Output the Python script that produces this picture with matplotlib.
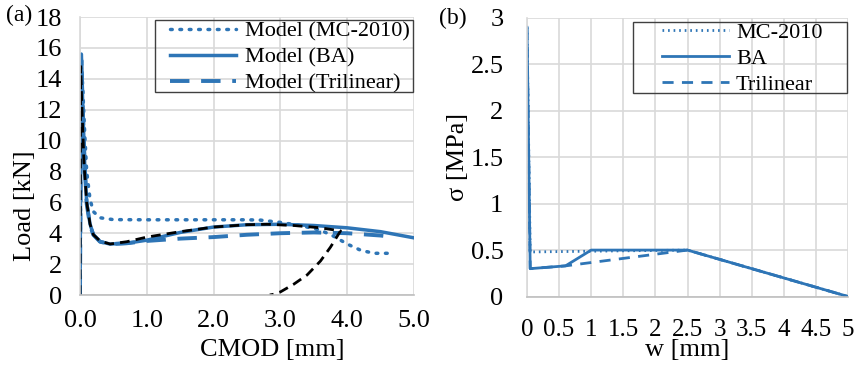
import numpy as np
import matplotlib.pyplot as plt
from matplotlib.patches import Rectangle

plt.rcParams['font.family'] = ['Liberation Serif', 'DejaVu Serif']
plt.rcParams['font.size'] = 14

blue = '#2E75B6'
gridc = '#d9d9d9'

# (a) load vs CMOD
mc_x = [0.0, 0.02, 0.04, 0.07, 0.1, 0.15, 0.2, 0.3, 0.5, 1.0, 1.5, 2.0, 2.5, 2.7, 3.0, 3.3, 3.6, 3.8, 4.0, 4.2, 4.4, 4.6]
mc_y = [0.0, 15.4, 13.5, 10.5, 8.0, 6.2, 5.4, 5.0, 4.88, 4.87, 4.87, 4.87, 4.87, 4.85, 4.7, 4.5, 4.2, 3.8, 3.3, 2.9, 2.7, 2.7]

ba_x = [0.0, 0.02, 0.04, 0.07, 0.1, 0.15, 0.2, 0.3, 0.45, 0.7, 1.0, 1.5, 2.0, 2.5, 3.0, 3.5, 4.0, 4.5, 5.0]
ba_y = [0.0, 15.6, 12.5, 8.5, 6.0, 4.6, 3.9, 3.45, 3.3, 3.35, 3.55, 4.05, 4.4, 4.55, 4.58, 4.5, 4.35, 4.1, 3.7]

tri_x = [0.0, 0.02, 0.04, 0.07, 0.1, 0.15, 0.2, 0.3, 0.45, 0.7, 1.0, 1.5, 2.0, 2.5, 3.0, 3.5, 4.0, 4.5, 4.7]
tri_y = [0.0, 15.2, 12.3, 8.4, 5.9, 4.5, 3.9, 3.45, 3.3, 3.35, 3.5, 3.65, 3.75, 3.9, 4.0, 4.05, 4.0, 3.85, 3.75]

exp_x = [0.0, 0.01, 0.03, 0.06, 0.1, 0.15, 0.2, 0.3, 0.45, 0.7, 1.0, 1.5, 2.0, 2.5, 2.8, 3.2, 3.6, 3.9,
         3.75, 3.6, 3.4, 3.2, 3.0, 2.9, 2.84]
exp_y = [0.0, 14.8, 12.0, 8.5, 6.0, 4.6, 3.9, 3.5, 3.3, 3.45, 3.75, 4.1, 4.4, 4.55, 4.58, 4.5, 4.35, 4.15,
         3.1, 2.2, 1.3, 0.7, 0.2, 0.05, 0.0]

# (b) stress vs crack opening
mcb_x = [0.0, 0.05, 2.5, 5.0]
mcb_y = [2.9, 0.48, 0.5, 0.0]
bab_x = [0.0, 0.05, 0.6, 1.0, 2.5, 5.0]
bab_y = [2.9, 0.3, 0.33, 0.5, 0.5, 0.0]
trib_x = [0.0, 0.05, 0.6, 2.5, 5.0]
trib_y = [2.9, 0.3, 0.33, 0.5, 0.0]

W, H = 858, 365
fig = plt.figure(figsize=(W/100, H/100), dpi=100)
ax1 = fig.add_axes([80/W, 1-295/H, 334/W, 278/H])
ax2 = fig.add_axes([527/W, 1-296.5/H, 321/W, 278.5/H])

for ax in (ax1, ax2):
    ax.grid(True, color=gridc, lw=1.2)
    ax.set_axisbelow(True)
    for s in ('top', 'right'):
        ax.spines[s].set_visible(False)
    ax.spines['left'].set_color(gridc)
    ax.spines['bottom'].set_color('#bfbfbf')
    ax.spines['left'].set_linewidth(1.2)
    ax.spines['bottom'].set_linewidth(1.2)
    ax.tick_params(length=0, labelsize=19)

ax1.tick_params(axis='x', pad=11)
ax1.tick_params(axis='y', pad=13)
ax2.tick_params(axis='x', pad=16, labelsize=18)
ax2.tick_params(axis='y', pad=17)

ax1.plot(mc_x, mc_y, color=blue, lw=2.5, ls=(0, (0.5, 2.2)), dash_capstyle='round', label='Model (MC-2010)')
ax1.plot(ba_x, ba_y, color=blue, lw=2.5, label='Model (BA)')
ax1.plot(tri_x, tri_y, color=blue, lw=2.8, ls=(0, (5, 3)), label='Model (Trilinear)')
ax1.plot(exp_x, exp_y, color='black', lw=2.0, ls=(0, (3.5, 2.2)))
ax1.set_xlim(0, 5)
ax1.set_ylim(0, 18)
ax1.set_xticks(np.arange(0, 5.1, 1))
ax1.set_xticklabels(['0.0', '1.0', '2.0', '3.0', '4.0', '5.0'])
ax1.set_yticks(np.arange(0, 19, 2))
ax1.set_xlabel('CMOD [mm]', fontsize=19, va='center')
ax1.set_ylabel('Load [kN]', fontsize=19, va='center')
ax1.xaxis.set_label_coords(0.575, -0.198)
ax1.yaxis.set_label_coords(-0.165, 0.32)
ax1.legend(loc='upper left', bbox_to_anchor=(170/W, 1-21/H), bbox_transform=fig.transFigure, fontsize=16,
           frameon=False, handlelength=2.95, borderpad=0.0, labelspacing=0.25, handletextpad=0.42,
           borderaxespad=0.0)
fig.patches.append(Rectangle((155/W, 1-92/H), 258/W, 72/H, transform=fig.transFigure, fill=False,
                             edgecolor='#404040', lw=1.0))

ax2.plot(mcb_x, mcb_y, color=blue, lw=2.0, ls=(0, (0.6, 1.4)), label='MC-2010')
ax2.plot(bab_x, bab_y, color=blue, lw=2.0, label='BA')
ax2.plot(trib_x, trib_y, color=blue, lw=2.0, ls=(0, (4, 3)), label='Trilinear')
ax2.set_xlim(0, 5)
ax2.set_ylim(0, 3)
ax2.set_xticks(np.arange(0, 5.01, 0.5))
ax2.set_xticklabels(['0', '0.5', '1', '1.5', '2', '2.5', '3', '3.5', '4', '4.5', '5'])
ax2.set_yticks(np.arange(0, 3.01, 0.5))
ax2.set_yticklabels(['0', '0.5', '1', '1.5', '2', '2.5', '3'])
ax2.set_xlabel('w [mm]', fontsize=19, va='center')
ax2.set_ylabel('σ [MPa]', fontsize=19, va='center')
ax2.xaxis.set_label_coords(0.498, -0.192)
ax2.yaxis.set_label_coords(-0.215, 0.5)
ax2.legend(loc='upper left', bbox_to_anchor=(662/W, 1-22/H), bbox_transform=fig.transFigure, fontsize=16,
           frameon=False, handlelength=3.0, borderpad=0.0, labelspacing=0.25, handletextpad=0.33,
           borderaxespad=0.0)
fig.patches.append(Rectangle((633/W, 1-93/H), 214/W, 71/H, transform=fig.transFigure, fill=False,
                             edgecolor='#404040', lw=1.0))

fig.text(6/W, 1-15/H, '(a)', fontsize=17, va='center', ha='left')
fig.text(439/W, 1-18/H, '(b)', fontsize=17, va='center', ha='left')

fig.savefig('out.png', dpi=100)
